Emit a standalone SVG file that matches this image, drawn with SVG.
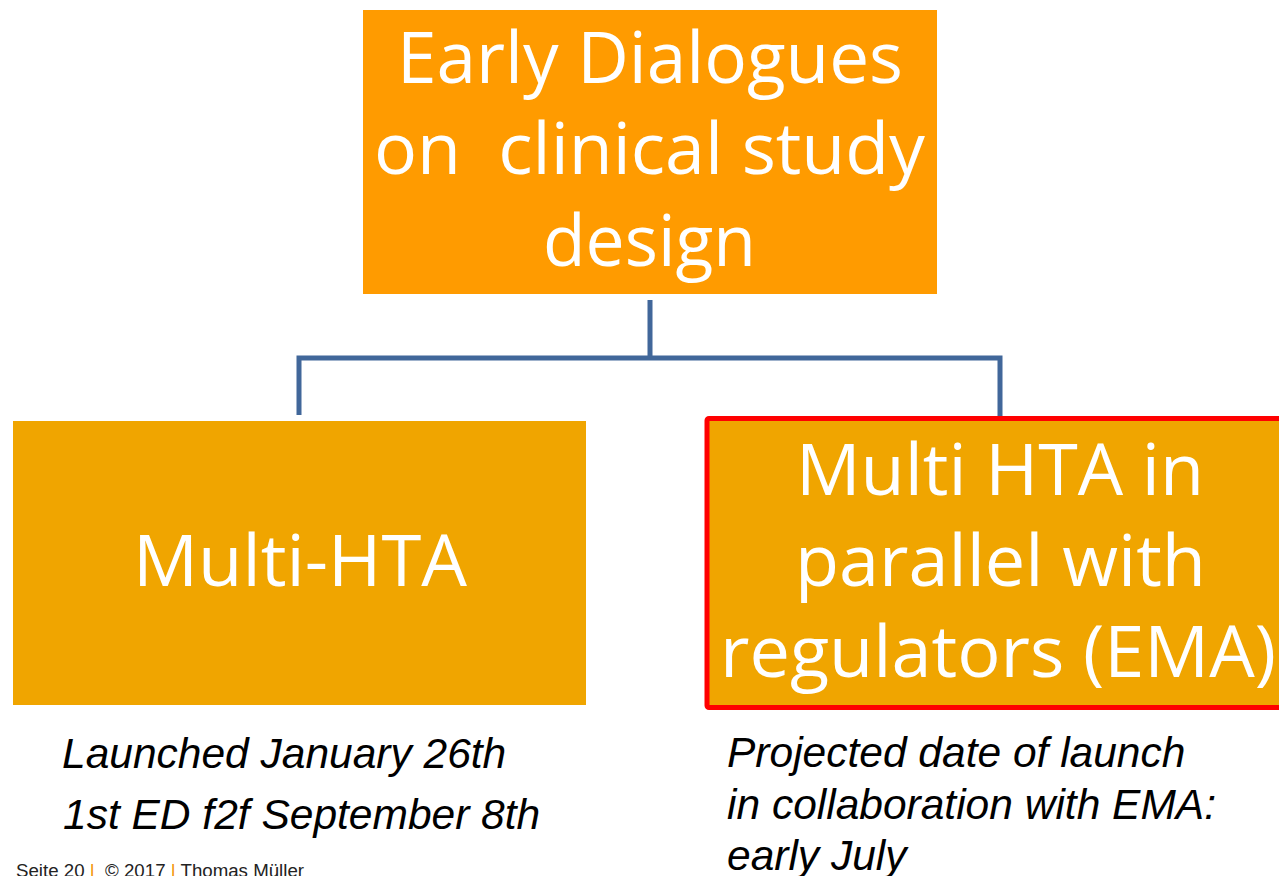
<svg xmlns="http://www.w3.org/2000/svg" width="1279" height="876" viewBox="0 0 1279 876">
<style>
.box-text{font-family:"Open Sans","Noto Sans",sans-serif;font-size:72px;fill:#ffffff;text-anchor:middle;white-space:pre}
.note{font-family:"Liberation Sans",Arial,sans-serif;font-style:italic;font-size:42.5px;fill:#000000}
.footer{font-family:"Liberation Sans",Arial,sans-serif;font-size:18.7px;fill:#222222;white-space:pre}
.sep{fill:#F39200}
.conn{fill:none;stroke:#41679A;stroke-width:5;stroke-linejoin:miter}
</style>
<rect width="1279" height="876" fill="#ffffff"/>
<g id="connectors">
<path class="conn" d="M650,300 V358 M299,415 V358 H1000 V416"/>
</g>
<g id="node-early-dialogues">
<rect x="363" y="10" width="574" height="284" fill="#FF9B00"/>
<text class="box-text" x="650" y="83" textLength="506" lengthAdjust="spacingAndGlyphs">Early Dialogues</text>
<text class="box-text" x="649.5" y="174" textLength="551" lengthAdjust="spacingAndGlyphs">on  clinical study</text>
<text class="box-text" x="649.5" y="266" textLength="213" lengthAdjust="spacingAndGlyphs">design</text>
</g>
<g id="node-multi-hta">
<rect x="13" y="421" width="573" height="284" fill="#F0A500"/>
<text class="box-text" x="300" y="586" textLength="334" lengthAdjust="spacingAndGlyphs">Multi-HTA</text>
</g>
<g id="node-multi-hta-ema">
<rect x="707" y="418.5" width="600" height="289" rx="2" fill="#F0A500" stroke="#FF0000" stroke-width="5"/>
<text class="box-text" x="1000" y="495" textLength="408" lengthAdjust="spacingAndGlyphs">Multi HTA in</text>
<text class="box-text" x="1000.5" y="586" textLength="411" lengthAdjust="spacingAndGlyphs">parallel with</text>
<text class="box-text" x="998" y="677" textLength="556" lengthAdjust="spacingAndGlyphs">regulators (EMA)</text>
</g>
<g id="note-left">
<text class="note" x="62" y="768">Launched January 26th</text>
<text class="note" x="63" y="829">1st ED f2f September 8th</text>
</g>
<g id="note-right">
<text class="note" x="727" y="767">Projected date of launch</text>
<text class="note" x="727" y="819">in collaboration with EMA:</text>
<text class="note" x="727" y="870">early July</text>
</g>
<g id="footer">
<text class="footer" x="16" y="877">Seite 20 <tspan class="sep">|</tspan>  © 2017 <tspan class="sep">|</tspan> Thomas Müller</text>
</g>
</svg>
